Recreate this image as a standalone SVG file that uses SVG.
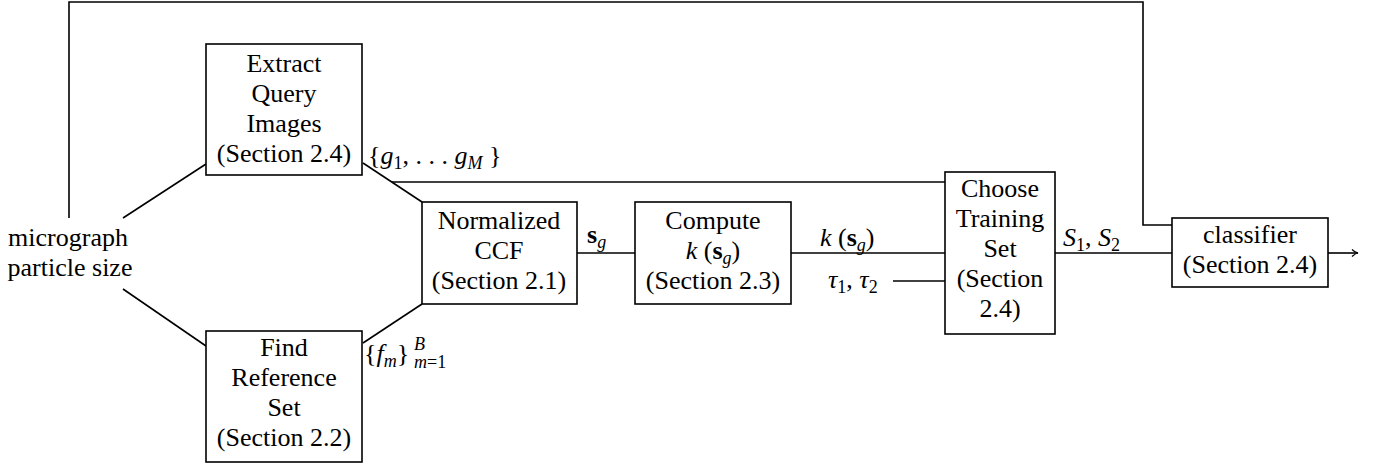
<svg xmlns="http://www.w3.org/2000/svg" width="1379" height="463" viewBox="0 0 1379 463">
<style>
.box{fill:#fff;stroke:#000;stroke-width:1.6}
.ln{fill:none;stroke:#000;stroke-width:1.6}
.f{font-family:'Liberation Serif',serif;font-size:26px;fill:#000}
.c{text-anchor:middle}
.i{font-style:italic}
.b{font-weight:bold}
.sub{font-size:18px}
</style>
<defs>
<marker id="arr" markerWidth="10" markerHeight="10" refX="8" refY="5" orient="auto" markerUnits="userSpaceOnUse">
<path d="M2,1.5 Q5,4.5 8,5 Q5,5.5 2,8.5" fill="none" stroke="#000" stroke-width="1.2"/>
</marker>
</defs>
<g id="connectors">
<polyline class="ln" points="69,218 69,2 1143,2 1143,225 1172,225"/>
<line class="ln" x1="123" y1="218" x2="206" y2="164"/>
<line class="ln" x1="123" y1="289" x2="206" y2="346"/>
<line class="ln" x1="363" y1="163" x2="422" y2="202"/>
<line class="ln" x1="363" y1="343" x2="422" y2="304"/>
<line class="ln" x1="392" y1="182" x2="945" y2="182"/>
<line class="ln" x1="577" y1="253" x2="635" y2="253"/>
<line class="ln" x1="791" y1="253" x2="945" y2="253"/>
<line class="ln" x1="893" y1="281" x2="945" y2="281"/>
<line class="ln" x1="1055" y1="253" x2="1172" y2="253"/>
<line class="ln" x1="1328" y1="253" x2="1358" y2="253" marker-end="url(#arr)"/>
</g>
<g id="input">
<text class="f c" font-family="Liberation Serif, serif" x="68" y="246">micrograph</text>
<text class="f c" font-family="Liberation Serif, serif" x="70" y="276">particle size</text>
</g>
<g id="extract">
<rect class="box" x="206" y="44" width="156" height="131"/>
<text class="f c" font-family="Liberation Serif, serif" x="284" y="72">Extract</text>
<text class="f c" font-family="Liberation Serif, serif" x="284" y="102">Query</text>
<text class="f c" font-family="Liberation Serif, serif" x="284" y="132">Images</text>
<text class="f c" font-family="Liberation Serif, serif" x="284" y="162">(Section 2.4)</text>
</g>
<g id="find">
<rect class="box" x="206" y="331" width="156" height="131"/>
<text class="f c" font-family="Liberation Serif, serif" x="284" y="356">Find</text>
<text class="f c" font-family="Liberation Serif, serif" x="284" y="386">Reference</text>
<text class="f c" font-family="Liberation Serif, serif" x="284" y="416">Set</text>
<text class="f c" font-family="Liberation Serif, serif" x="284" y="446">(Section 2.2)</text>
</g>
<g id="ccf">
<rect class="box" x="422" y="202" width="155" height="102"/>
<text class="f c" font-family="Liberation Serif, serif" x="499" y="229">Normalized</text>
<text class="f c" font-family="Liberation Serif, serif" x="499" y="259">CCF</text>
<text class="f c" font-family="Liberation Serif, serif" x="499" y="289">(Section 2.1)</text>
</g>
<g id="compute">
<rect class="box" x="635" y="202" width="156" height="102"/>
<text class="f c" font-family="Liberation Serif, serif" x="713" y="229">Compute</text>
<text class="f c" font-family="Liberation Serif, serif" x="713" y="259"><tspan class="i">k</tspan> (<tspan class="b">s</tspan><tspan class="i sub" dy="5">g</tspan><tspan dy="-5">)</tspan></text>
<text class="f c" font-family="Liberation Serif, serif" x="713" y="289">(Section 2.3)</text>
</g>
<g id="choose">
<rect class="box" x="945" y="172" width="110" height="162"/>
<text class="f c" font-family="Liberation Serif, serif" x="1000" y="197">Choose</text>
<text class="f c" font-family="Liberation Serif, serif" x="1000" y="227">Training</text>
<text class="f c" font-family="Liberation Serif, serif" x="1000" y="257">Set</text>
<text class="f c" font-family="Liberation Serif, serif" x="1000" y="287">(Section</text>
<text class="f c" font-family="Liberation Serif, serif" x="1000" y="317">2.4)</text>
</g>
<g id="classifier">
<rect class="box" x="1172" y="218" width="156" height="69"/>
<text class="f c" font-family="Liberation Serif, serif" x="1250" y="243">classifier</text>
<text class="f c" font-family="Liberation Serif, serif" x="1250" y="273">(Section 2.4)</text>
</g>
<g id="labels">
<text class="f" font-family="Liberation Serif, serif" x="368" y="164">{<tspan class="i">g</tspan><tspan class="sub" dy="5">1</tspan><tspan dy="-5">, . . . </tspan><tspan class="i">g</tspan><tspan class="i sub" dy="5">M</tspan><tspan dy="-5"> }</tspan></text>
<text class="f" font-family="Liberation Serif, serif" x="364" y="362">{<tspan class="i">f</tspan><tspan class="i sub" dy="5">m</tspan><tspan dy="-5">}</tspan><tspan class="i sub" x="414" y="350">B</tspan><tspan class="sub" x="414" y="368"><tspan class="i">m</tspan>=1</tspan></text>
<text class="f" font-family="Liberation Serif, serif" x="587" y="243"><tspan class="b">s</tspan><tspan class="i sub" dy="5">g</tspan></text>
<text class="f" font-family="Liberation Serif, serif" x="820" y="246"><tspan class="i">k</tspan> (<tspan class="b">s</tspan><tspan class="i sub" dy="5">g</tspan><tspan dy="-5">)</tspan></text>
<text class="f" font-family="Liberation Serif, serif" x="828" y="288"><tspan class="i">τ</tspan><tspan class="sub" dy="5">1</tspan><tspan dy="-5">, </tspan><tspan class="i">τ</tspan><tspan class="sub" dy="5">2</tspan></text>
<text class="f" font-family="Liberation Serif, serif" x="1063" y="246"><tspan class="i">S</tspan><tspan class="sub" dy="5">1</tspan><tspan dy="-5">, </tspan><tspan class="i">S</tspan><tspan class="sub" dy="5">2</tspan></text>
</g>
</svg>
